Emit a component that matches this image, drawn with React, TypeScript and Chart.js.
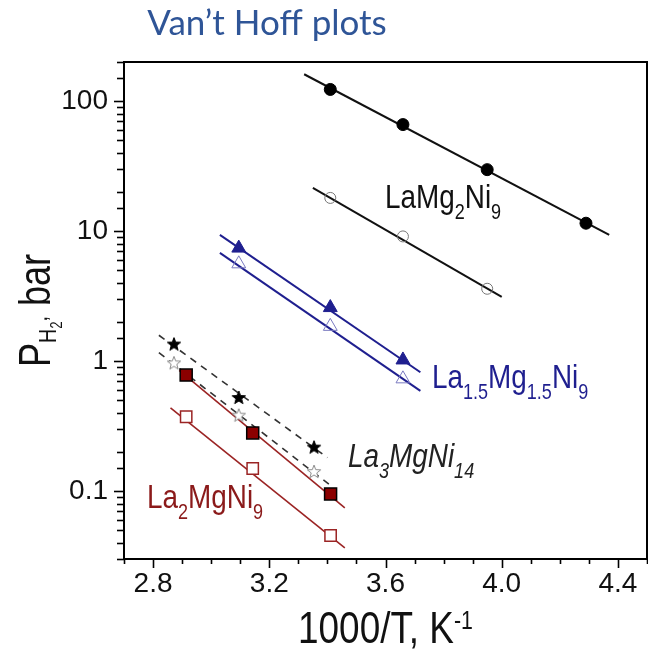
import React, { useEffect, useRef } from 'react';
import { Chart, registerables } from 'chart.js';

Chart.register(...registerables);

const SANS = '"Liberation Sans", Arial, sans-serif';
const NARROW_X = 0.82; // horizontal compression emulating a narrow sans face

// x = 1000/T (K^-1), y = P(H2) in bar
// LaMg2Ni9
const lamg2AbsX = [3.41, 3.66, 3.95, 4.29];
const lamg2AbsY = [123, 66, 29.7, 11.5];
const lamg2DesX = [3.41, 3.66, 3.95];
const lamg2DesY = [18.0, 9.1, 3.6];
// La1.5Mg1.5Ni9
const la15X = [3.095, 3.41, 3.66];
const la15AbsY = [7.4, 2.58, 1.02];
const la15DesY = [5.6, 1.85, 0.73];
// La3MgNi14
const la3X = [2.872, 3.095, 3.354];
const la3AbsY = [1.34, 0.52, 0.216];
const la3DesY = [0.96, 0.38, 0.14];
// La2MgNi9
const la2X = [2.914, 3.143, 3.411];
const la2AbsY = [0.78, 0.28, 0.095];
const la2DesY = [0.373, 0.149, 0.0455];

// fitted Van't Hoff lines, end points
const lamg2AbsFitX = [3.32, 4.37];
const lamg2AbsFitY = [161, 9.35];
const lamg2DesFitX = [3.35, 4.0];
const lamg2DesFitY = [21.5, 3.12];
const la15AbsFitX = [3.03, 3.72];
const la15AbsFitY = [9.35, 0.82];
const la15DesFitX = [3.03, 3.72];
const la15DesFitY = [6.8, 0.59];
const la3AbsFitX = [2.82, 3.4];
const la3AbsFitY = [1.58, 0.181];
const la3DesFitX = [2.82, 3.405];
const la3DesFitY = [1.16, 0.113];
const la2AbsFitX = [2.89, 3.46];
const la2AbsFitY = [0.847, 0.0743];
const la2DesFitX = [2.86, 3.46];
const la2DesFitY = [0.436, 0.0365];

const xTickLabels = ['2.8', '3.2', '3.6', '4.0', '4.4'];
const yTickLabels = ['0.1', '1', '10', '100'];

const pts = (xs: number[], ys: number[]) => xs.map((x, i) => ({ x, y: ys[i] }));

function makeStar(fill: string, stroke: string, r: number) {
  const c = document.createElement('canvas');
  const s = Math.ceil(r * 2 + 4);
  c.width = s;
  c.height = s;
  const g = c.getContext('2d')!;
  g.beginPath();
  for (let i = 0; i < 10; i++) {
    const a = -Math.PI / 2 + (i * Math.PI) / 5;
    const rr = i % 2 === 0 ? r : r * 0.42;
    g.lineTo(s / 2 + rr * Math.cos(a), s / 2 + rr * Math.sin(a));
  }
  g.closePath();
  g.fillStyle = fill;
  g.fill();
  g.strokeStyle = stroke;
  g.lineWidth = 1;
  g.stroke();
  return c;
}

type Seg = { t: string; size: number; dy?: number };

function richWidth(ctx: CanvasRenderingContext2D, segs: Seg[], italic: boolean) {
  let w = 0;
  for (const s of segs) {
    ctx.font = `${italic ? 'italic ' : ''}${s.size}px ${SANS}`;
    w += ctx.measureText(s.t).width;
  }
  return w * NARROW_X;
}

function drawRich(ctx: CanvasRenderingContext2D, segs: Seg[], x: number, y: number, color: string, italic = false) {
  ctx.save();
  ctx.translate(x, y);
  ctx.scale(NARROW_X, 1);
  let cx = 0;
  ctx.fillStyle = color;
  ctx.textBaseline = 'alphabetic';
  ctx.textAlign = 'left';
  for (const s of segs) {
    ctx.font = `${italic ? 'italic ' : ''}${s.size}px ${SANS}`;
    ctx.fillText(s.t, cx, s.dy || 0);
    cx += ctx.measureText(s.t).width;
  }
  ctx.restore();
}

const M = 34;
const S = 22;
const SD = 11;

const annotations: { segs: Seg[]; x: number; y: number; color: string; italic?: boolean }[] = [
  {
    segs: [{ t: 'LaMg', size: M }, { t: '2', size: S, dy: SD }, { t: 'Ni', size: M }, { t: '9', size: S, dy: SD }],
    x: 385, y: 208, color: '#111111',
  },
  {
    segs: [{ t: 'La', size: M }, { t: '1.5', size: S, dy: SD }, { t: 'Mg', size: M }, { t: '1.5', size: S, dy: SD }, { t: 'Ni', size: M }, { t: '9', size: S, dy: SD }],
    x: 432, y: 388, color: '#1f1f8f',
  },
  {
    segs: [{ t: 'La', size: M }, { t: '3', size: S, dy: SD }, { t: 'MgNi', size: M }, { t: '14', size: S, dy: SD }],
    x: 348, y: 467, color: '#222222', italic: true,
  },
  {
    segs: [{ t: 'La', size: M }, { t: '2', size: S, dy: SD }, { t: 'MgNi', size: M }, { t: '9', size: S, dy: SD }],
    x: 147, y: 508, color: '#8b1a1a',
  },
];

const decorPlugin = {
  id: 'decor',
  afterDraw(chart: any) {
    const { ctx, chartArea: a, scales } = chart;
    ctx.save();
    // frame
    ctx.strokeStyle = '#000';
    ctx.lineWidth = 2;
    ctx.strokeRect(a.left, a.top, a.right - a.left, a.bottom - a.top);
    // y ticks
    ctx.lineWidth = 1.6;
    const ys = scales.y;
    for (const t of ys.ticks) {
      const lg = Math.log10(t.value);
      const major = Math.abs(lg - Math.round(lg)) < 1e-6;
      const py = Math.round(ys.getPixelForValue(t.value)) + 0.5;
      ctx.beginPath();
      ctx.moveTo(a.left, py);
      ctx.lineTo(a.left - (major ? 10 : 7), py);
      ctx.stroke();
    }
    const xs = scales.x;
    for (const t of xs.ticks) {
      const major = xTickLabels.includes(Number(t.value).toFixed(1));
      const px = Math.round(xs.getPixelForValue(t.value)) + 0.5;
      ctx.beginPath();
      ctx.moveTo(px, a.bottom);
      ctx.lineTo(px, a.bottom + (major ? 9 : 5));
      ctx.stroke();
    }
    // title
    ctx.fillStyle = '#2f5597';
    ctx.font = '35px Lato, "Open Sans", sans-serif';
    ctx.textAlign = 'center';
    ctx.textBaseline = 'alphabetic';
    ctx.fillText('Van\u2019t Hoff plots', 267, 35);
    // x title
    const xt: Seg[] = [{ t: '1000/T, K', size: 45 }, { t: '-1', size: 26, dy: -14 }];
    const xw = richWidth(ctx, xt, false);
    drawRich(ctx, xt, (a.left + a.right) / 2 - xw / 2, 643, '#111');
    // y title
    const yt: Seg[] = [
      { t: 'P', size: 44 },
      { t: 'H', size: 24, dy: 6 },
      { t: '2', size: 16, dy: 12 },
      { t: ',', size: 24, dy: -3 },
      { t: ' bar', size: 44 },
    ];
    const yw = richWidth(ctx, yt, false);
    ctx.save();
    ctx.translate(50, (a.top + a.bottom) / 2);
    ctx.rotate(-Math.PI / 2);
    drawRich(ctx, yt, -yw / 2, 0, '#111');
    ctx.restore();
    // series labels
    for (const an of annotations) drawRich(ctx, an.segs, an.x, an.y, an.color, !!an.italic);
    ctx.restore();
  },
};

export default function App() {
  const ref = useRef<HTMLCanvasElement>(null);
  useEffect(() => {
    if (!ref.current) return;
    const starFilled = makeStar('#000', '#000', 7);
    const starOpen = makeStar('#ffffff', '#8a8a8a', 7);
    const black = '#111111';
    const navy = '#1f1f8f';
    const red = '#9b2424';
    const lineDs = (xs: number[], ys: number[], color: string, width: number, dash: number[] = []) => ({
      type: 'line' as const,
      data: pts(xs, ys),
      borderColor: color,
      borderWidth: width,
      borderDash: dash,
      pointRadius: 0,
      showLine: true,
      fill: false,
      order: 2,
    });
    const ptDs = (xs: number[], ys: number[], style: any, radius: number, bg: string, border: string, bw: number) => ({
      type: 'scatter' as const,
      data: pts(xs, ys),
      pointStyle: style,
      pointRadius: radius,
      pointBackgroundColor: bg,
      pointBorderColor: border,
      pointBorderWidth: bw,
      showLine: false,
      order: 1,
    });
    const chart = new Chart(ref.current, {
      type: 'scatter',
      data: {
        datasets: [
          lineDs(lamg2AbsFitX, lamg2AbsFitY, black, 2),
          lineDs(lamg2DesFitX, lamg2DesFitY, black, 2),
          lineDs(la15AbsFitX, la15AbsFitY, navy, 2),
          lineDs(la15DesFitX, la15DesFitY, navy, 2),
          lineDs(la3AbsFitX, la3AbsFitY, '#333333', 1.6, [7, 6]),
          lineDs(la3DesFitX, la3DesFitY, '#333333', 1.6, [7, 6]),
          lineDs(la2AbsFitX, la2AbsFitY, red, 1.6),
          lineDs(la2DesFitX, la2DesFitY, red, 1.6),
          ptDs(lamg2AbsX, lamg2AbsY, 'circle', 6, '#000', '#000', 1),
          ptDs(lamg2DesX, lamg2DesY, 'circle', 5.5, 'rgba(255,255,255,0)', '#777777', 1),
          ptDs(la15X, la15AbsY, 'triangle', 8, navy, navy, 1),
          ptDs(la15X, la15DesY, 'triangle', 8, 'rgba(255,255,255,0)', '#7a7ac0', 1),
          ptDs(la3X, la3AbsY, starFilled, 7, '#000', '#000', 1),
          ptDs(la3X, la3DesY, starOpen, 7, '#fff', '#8a8a8a', 1),
          ptDs(la2X, la2AbsY, 'rect', 8.5, '#8b0000', '#000', 1.5),
          ptDs(la2X, la2DesY, 'rect', 8, '#ffffff', red, 1.5),
        ],
      },
      options: {
        animation: false,
        responsive: false,
        events: [],
        layout: { autoPadding: false, padding: { top: 62, right: 1, left: 0, bottom: 0 } },
        plugins: { legend: { display: false }, title: { display: false }, tooltip: { enabled: false } },
        scales: {
          x: {
            type: 'linear',
            min: 2.7,
            max: 4.5,
            grid: { display: false, drawTicks: true, tickLength: 8 },
            border: { display: false },
            ticks: {
              stepSize: 0.1,
              maxTicksLimit: 100,
              autoSkip: false,
              maxRotation: 0,
              padding: 0,
              color: '#111',
              font: { family: SANS, size: 28 },
              callback: (v: any) => {
                const s = Number(v).toFixed(1);
                return xTickLabels.includes(s) ? s : '';
              },
            },
            afterFit: (s: any) => {
              s.height = 93;
              s.paddingLeft = 0;
              s.paddingRight = 0;
            },
          },
          y: {
            type: 'logarithmic',
            min: 0.03,
            max: 200,
            grid: { display: false, drawTicks: false },
            border: { display: false },
            ticks: {
              autoSkip: false,
              padding: 16,
              color: '#111',
              font: { family: SANS, size: 28 },
              callback: (v: any) => {
                const lg = Math.log10(Number(v));
                if (Math.abs(lg - Math.round(lg)) > 1e-6) return '';
                const e = Math.round(lg);
                const s = e >= 0 ? String(Math.round(Number(v))) : Number(v).toFixed(-e);
                return yTickLabels.includes(s) ? s : '';
              },
            },
            afterFit: (s: any) => {
              s.width = 124;
              s.paddingTop = 0;
              s.paddingBottom = 0;
            },
          },
        },
      },
      plugins: [decorPlugin],
    } as any);
    return () => chart.destroy();
  }, []);
  return (
    <div style={{ position: 'fixed', left: 0, top: 0, width: 648, height: 652, background: '#fff' }}>
      <canvas ref={ref} width={648} height={652} style={{ width: 648, height: 652, display: 'block' }} />
    </div>
  );
}
